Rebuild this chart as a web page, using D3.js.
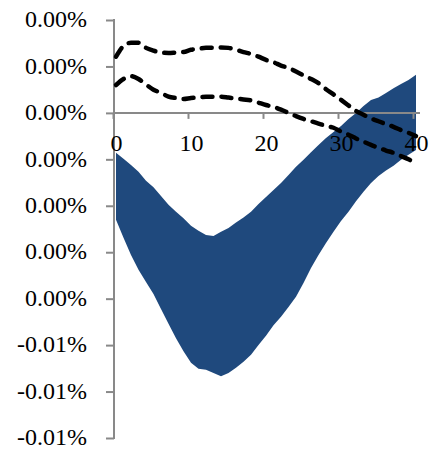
<!DOCTYPE html>
<html>
<head>
<meta charset="utf-8">
<script src="https://cdn.jsdelivr.net/npm/d3@7/dist/d3.min.js"></script>
<style>
  html, body { margin: 0; padding: 0; background: #ffffff; }
  svg { display: block; }
  text { font-family: "Liberation Serif", "Times New Roman", serif; fill: #000; }
</style>
</head>
<body>
<svg id="chart" width="432" height="451"></svg>
<script>
// Horizon (periods after the shock)
const periods = [0, 1, 2, 3, 4, 5, 6, 7, 8, 9, 10, 11, 12, 13, 14, 15, 16, 17, 18, 19, 20,
                 21, 22, 23, 24, 25, 26, 27, 28, 29, 30, 31, 32, 33, 34, 35, 36, 37, 38, 39, 40];

// Response band, values in percent
const bandUpper = [-0.00086, -0.00099, -0.00112, -0.00127, -0.00146, -0.00160, -0.00179, -0.00198, -0.00213, -0.00227,
                   -0.00243, -0.00254, -0.00263, -0.00265, -0.00256, -0.00248, -0.00236, -0.00225, -0.00213, -0.00196,
                   -0.00181, -0.00166, -0.00151, -0.00134, -0.00116, -0.00101, -0.00085, -0.00069, -0.00054, -0.00041,
                   -0.00028, -0.00013, 0.00000, 0.00015, 0.00028, 0.00033, 0.00043, 0.00053, 0.00062, 0.00071, 0.00082];
const bandLower = [-0.00230, -0.00269, -0.00306, -0.00338, -0.00364, -0.00390, -0.00422, -0.00454, -0.00485, -0.00513,
                   -0.00538, -0.00551, -0.00553, -0.00560, -0.00567, -0.00560, -0.00549, -0.00536, -0.00521, -0.00500,
                   -0.00480, -0.00457, -0.00439, -0.00418, -0.00396, -0.00366, -0.00334, -0.00306, -0.00280, -0.00256,
                   -0.00233, -0.00213, -0.00190, -0.00170, -0.00151, -0.00136, -0.00124, -0.00114, -0.00101, -0.00090, -0.00080];

// Dashed bounds, values in percent
const dashUpper = [0.00121, 0.00144, 0.00151, 0.00151, 0.00140, 0.00134, 0.00130, 0.00129, 0.00130, 0.00131,
                   0.00136, 0.00138, 0.00140, 0.00140, 0.00141, 0.00140, 0.00136, 0.00131, 0.00127, 0.00121,
                   0.00114, 0.00109, 0.00102, 0.00097, 0.00089, 0.00081, 0.00073, 0.00064, 0.00051, 0.00040,
                   0.00028, 0.00016, 0.00004, -0.00004, -0.00012, -0.00018, -0.00024, -0.00030, -0.00037, -0.00043, -0.00050];
const dashLower = [0.00060, 0.00073, 0.00079, 0.00073, 0.00061, 0.00050, 0.00043, 0.00035, 0.00032, 0.00030,
                   0.00032, 0.00033, 0.00035, 0.00035, 0.00035, 0.00033, 0.00031, 0.00029, 0.00027, 0.00022,
                   0.00017, 0.00013, 0.00007, 0.00000, -0.00007, -0.00013, -0.00018, -0.00023, -0.00028, -0.00032,
                   -0.00040, -0.00047, -0.00055, -0.00062, -0.00069, -0.00075, -0.00081, -0.00086, -0.00093, -0.00100, -0.00108];

// Axis ticks
const xTicks = [0, 10, 20, 30, 40];
const yTicks = [0.002, 0.001, 0, -0.001, -0.002, -0.003, -0.004, -0.005, -0.006, -0.007];
const yTickLabels = ["0.00%", "0.00%", "0.00%", "0.00%", "0.00%", "0.00%", "0.00%", "-0.01%", "-0.01%", "-0.01%"];

const svg = d3.select("#chart");

const x = d3.scaleLinear().domain([0, 40]).range([116, 416]);
const y = d3.scaleLinear().domain([-0.007, 0.002]).range([438, 20]);
const axisX = 114;          // vertical axis position
const axisColor = "#898989";

// Shaded band
const band = d3.area()
  .x((d, i) => x(periods[i]))
  .y0((d, i) => y(bandLower[i]))
  .y1((d, i) => y(bandUpper[i]));

svg.append("path")
  .datum(periods)
  .attr("d", band)
  .attr("fill", "#1f497d");

// Vertical axis
const yAxis = d3.axisLeft(y)
  .tickValues(yTicks)
  .tickFormat((d, i) => yTickLabels[i])
  .tickSize(8)
  .tickPadding(19);

const gy = svg.append("g")
  .attr("transform", `translate(${axisX},0)`)
  .call(yAxis);
gy.select(".domain").remove();
gy.selectAll(".tick line").attr("stroke", axisColor).attr("stroke-width", 2);
gy.selectAll(".tick text")
  .attr("font-size", 24)
  .attr("font-family", "'Liberation Serif', 'Times New Roman', serif")
  .attr("fill", "#000")
  .attr("dy", "0.28em");
svg.append("line")
  .attr("x1", axisX).attr("x2", axisX)
  .attr("y1", y(0.002) - 1).attr("y2", y(-0.007) + 1)
  .attr("stroke", axisColor).attr("stroke-width", 2);

// Horizontal axis at zero
const xAxis = d3.axisBottom(x)
  .tickValues(xTicks)
  .tickFormat(d3.format("d"))
  .tickSize(6)
  .tickPadding(24);

const gx = svg.append("g")
  .attr("transform", `translate(0,${y(0)})`)
  .call(xAxis);
gx.select(".domain").remove();
gx.selectAll(".tick line")
  .attr("stroke", axisColor).attr("stroke-width", 2)
  .attr("x1", -3).attr("x2", -3);
gx.selectAll(".tick text")
  .attr("font-size", 24)
  .attr("font-family", "'Liberation Serif', 'Times New Roman', serif")
  .attr("fill", "#000")
  .attr("dy", "0.35em");
svg.append("line")
  .attr("x1", axisX).attr("x2", x(40) + 4)
  .attr("y1", y(0)).attr("y2", y(0))
  .attr("stroke", axisColor).attr("stroke-width", 2);

// Dashed bound lines
const line = d3.line()
  .x(d => x(d[0]))
  .y(d => y(d[1]))
  .curve(d3.curveMonotoneX);

[dashUpper, dashLower].forEach(series => {
  svg.append("path")
    .datum(periods.map((p, i) => [p, series[i]]))
    .attr("d", line)
    .attr("fill", "none")
    .attr("stroke", "#000")
    .attr("stroke-width", 4.5)
    .attr("stroke-linecap", "round")
    .attr("stroke-dasharray", "10,9");
});
</script>
</body>
</html>
